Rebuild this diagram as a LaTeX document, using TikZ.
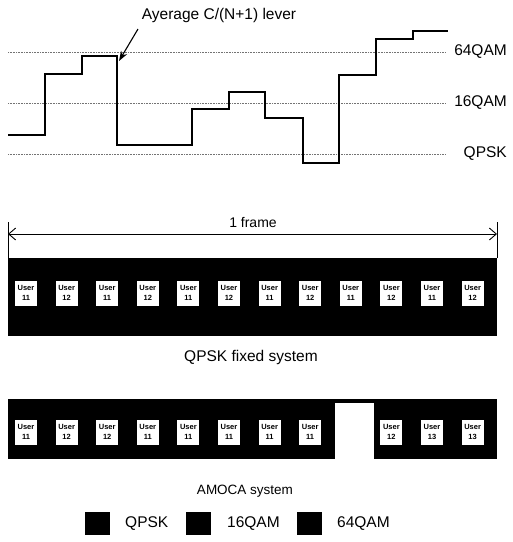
\documentclass[tikz,border=0pt]{standalone}
\usepackage{fontspec}
\setmainfont{Liberation Sans}
\usetikzlibrary{arrows.meta}
\begin{document}
\begin{tikzpicture}[x=1pt,y=-1pt,
  lvl/.style={black!55, densely dotted, line width=0.6pt},
  sig/.style={line width=1.3pt, line join=miter},
  ubox/.style={fill=white, draw=none, minimum width=22pt, minimum height=25pt, inner sep=0pt,
    font=\fontsize{7.5}{8.5}\selectfont\bfseries, align=center},
  lab/.style={font=\fontsize{15.5}{17}\selectfont, inner sep=0pt},
  leg/.style={fill=black, minimum width=25pt, minimum height=23pt, inner sep=0pt},
  bar/.style={fill=black}
]
\useasboundingbox (0,0) rectangle (513,542);

% level lines and labels
\node[lab, anchor=east] (l64) at (507,52) {64QAM};
\node[lab, anchor=east] (l16) at (507,103) {16QAM};
\node[lab, anchor=east] (lqp) at (507,154) {QPSK};
\coordinate (a64) at (8,52);
\coordinate (a16) at (8,103);
\coordinate (aqp) at (8,154);
\draw[lvl] (a64) -- (446,52);
\draw[lvl] (a16) -- (446,103);
\draw[lvl] (aqp) -- (446,154);

% signal level curve
\draw[sig] (8,135) -| (45,74) -| (82,56) -| (117,145) -| (192,109) -| (229,92)
  -| (265,118) -| (303,163) -| (339,75) -| (376,39) -| (413,31) -- (448,31);

% annotation
\node[lab] (ann) at (219,15) {Ayerage C/(N+1) lever};
\coordinate (annTip) at (119,61);
\draw[line width=1.1pt, -{Stealth[length=10pt,width=7pt]}] (138,29) -- (annTip);

% frame arrow
\node[font=\fontsize{14}{16}\selectfont, inner sep=0pt] (frm) at (253,222) {1 frame};
\coordinate (fl) at (8,234);
\coordinate (fr) at (497,234);
\draw[line width=0.9pt, {Straight Barb[length=7pt,width=12pt]}-{Straight Barb[length=7pt,width=12pt]}] (fl) -- (fr);
\draw[line width=0.9pt] (8,222) -- (8,258);
\draw[line width=0.9pt] (497,222) -- (497,258);

% QPSK fixed system bar
\fill[bar] (8,258) rectangle (497,336);
\foreach \i/\n in {0/11,1/12,2/11,3/12,4/11,5/12,6/11,7/12,8/11,9/12,10/11,11/12}{
  \node[ubox] (q\i) at ({26+40.6*\i},293) {User\\[1pt]\n};
}
\node[lab] (qcap) at (251,357) {QPSK fixed system};

% AMOCA system bar
\fill[bar] (8,399) rectangle (497,459);
\fill[white] (335,403) rectangle (374,459);
\foreach \i/\n in {0/11,1/12,2/12,3/11,4/11,5/11,6/11,7/11,9/12,10/13,11/13}{
  \node[ubox] (m\i) at ({26+40.6*\i},432) {User\\[1pt]\n};
}
\node[font=\fontsize{13.5}{16}\selectfont, inner sep=0pt] (mcap) at (245,491) {AMOCA system};

% legend
\node[leg] (s1) at (97,523) {};
\node[lab, anchor=west] (t1) at (125,524) {QPSK};
\node[leg] (s2) at (198,523) {};
\node[lab, anchor=west] (t2) at (227,524) {16QAM};
\node[leg] (s3) at (309,523) {};
\node[lab, anchor=west] (t3) at (337,524) {64QAM};
\end{tikzpicture}
\end{document}
